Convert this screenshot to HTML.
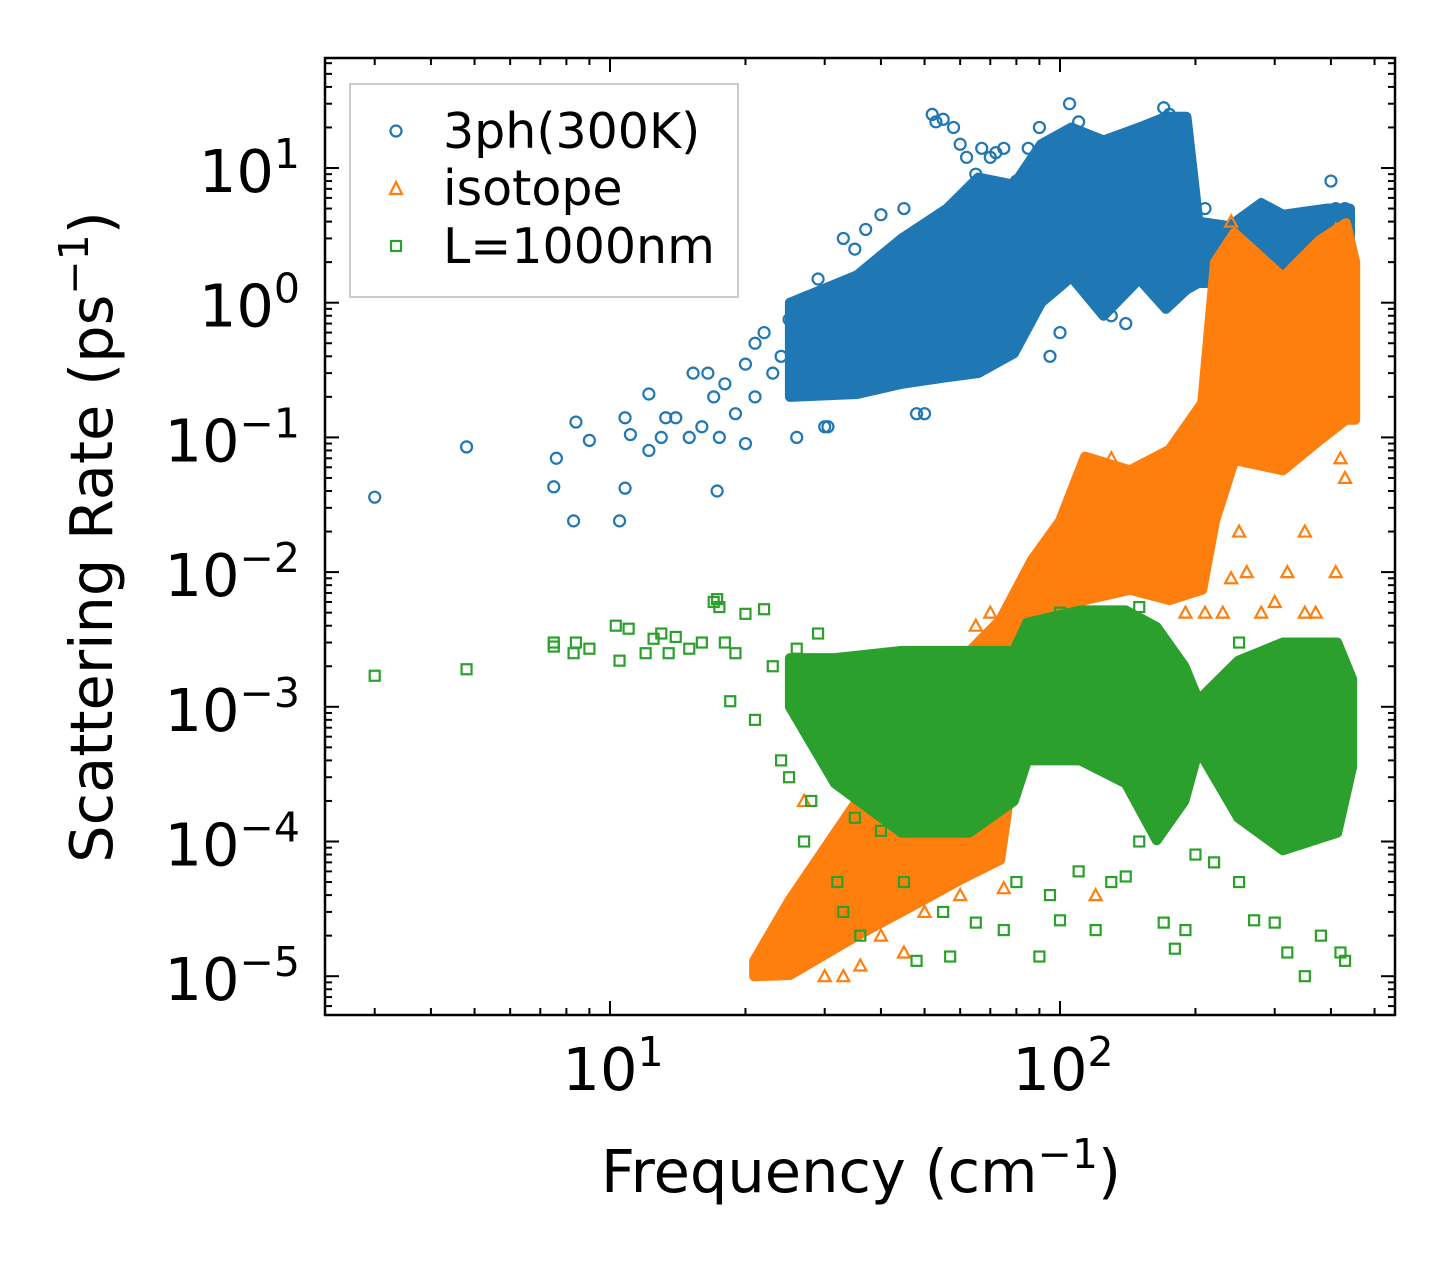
<!DOCTYPE html>
<html><head><meta charset="utf-8"><style>
body{margin:0;background:#fff;}
svg{display:block;font-family:"DejaVu Sans","Liberation Sans",sans-serif;}
</style></head><body>
<svg id="chart" width="1455" height="1265" viewBox="0 0 1455 1265" xmlns="http://www.w3.org/2000/svg">
<rect x="0" y="0" width="1455" height="1265" fill="#fff"/>
<g id="plot"></g>
<g id="axes"></g>
<text x="861" y="1192" font-size="59" text-anchor="middle">Frequency (cm<tspan dy="-24" font-size="41">−1</tspan><tspan dy="24">)</tspan></text>
<text transform="translate(112,537) rotate(-90)" font-size="59" text-anchor="middle">Scattering Rate (ps<tspan dy="-24" font-size="41">−1</tspan><tspan dy="24">)</tspan></text>
<g id="legend">
<rect x="350" y="84" width="388" height="213" fill="#fff" fill-opacity="0.8" stroke="#ccc" stroke-width="2"/>
<circle cx="396" cy="131" r="5.5" fill="none" stroke="#1f77b4" stroke-width="2.2"/>
<text x="443" y="148" font-size="49">3ph(300K)</text>
<path d="M396,182 L402,194 L390,194 Z" fill="none" stroke="#ff7f0e" stroke-width="2.2"/>
<text x="443" y="205" font-size="49">isotope</text>
<rect x="391" y="241" width="10" height="10" fill="none" stroke="#2ca02c" stroke-width="2.2"/>
<text x="443" y="263" font-size="49">L=1000nm</text>
</g>
</svg>
<script>
// ---- data ----
const blueX=[3,4.8,7.5,7.6,8.3,8.4,9,10.5,10.8,10.8,11.1,12.2,12.2,13,13.3,14,15,15.3,16,16.5,17,17.3,17.5,18,19,20,20,21,21,22,23,24,25,26,27,28,29,30,30.5,33,35,37,40,42,45,48,50,52,53,55,58,60,62,65,67,70,72,75,80,85,90,95,100,105,110,120,130,140,150,170,175,180,200,210,230,260,300,340,400,410,430];
const blueY=[0.036,0.085,0.043,0.07,0.024,0.13,0.095,0.024,0.042,0.14,0.105,0.08,0.21,0.1,0.14,0.14,0.1,0.3,0.12,0.3,0.2,0.04,0.1,0.25,0.15,0.09,0.35,0.5,0.2,0.6,0.3,0.4,0.75,0.1,0.6,0.8,1.5,0.12,0.12,3,2.5,3.5,4.5,1.5,5,0.15,0.15,25,22,23,20,15,12,9,14,12,13,14,8,14,20,0.4,0.6,30,22,1.5,0.8,0.7,15,28,25,18,3,5,3,2.5,4,4,8,5,5];
const blueBandX=[25.1,35.4,44.5,56.1,65.8,79,90.8,106,125,150,172,191,203,238,280,313,394,441];
const blueBandHi=[1.0,1.6,3.0,5.0,8.5,7.5,15,20,16,20,24,24,4.0,3.7,5.5,4.5,5,5];
const blueBandLo=[0.2,0.21,0.25,0.28,0.3,0.42,1.0,1.55,0.8,1.5,0.9,1.25,1.4,1.4,1.9,1.0,1.9,3.0];

const orangeX=[27,30,33,36,40,45,50,60,65,70,75,80,120,130,140,190,200,210,230,240,250,260,280,300,320,350,370,410,420,430,240,410,330,350];
const orangeY=[2e-4,1e-5,1e-5,1.2e-5,2e-5,1.5e-5,3e-5,4e-5,4e-3,5e-3,4.5e-5,4.5e-3,4e-5,0.07,0.04,5e-3,1e-2,5e-3,5e-3,9e-3,2e-2,1e-2,5e-3,6e-3,1e-2,5e-3,5e-3,1e-2,0.07,0.05,4,3.5,0.2,0.02];
const orangeBandX=[20.9,25.1,35.4,49.9,60,73.6,86.6,100,113.7,143,175,207,221,244,313,377,432,453];
const orangeBandHi=[1.3e-5,3.7e-5,2.0e-4,6.7e-4,2.2e-3,4.4e-3,1.23e-2,2.4e-2,7.2e-2,5.7e-2,8.1e-2,0.18,2.0,3.3,1.55,2.9,3.9,2.0];
const orangeBandLo=[1e-5,1.02e-5,2.0e-5,3.7e-5,5.2e-5,7.3e-5,3.1e-3,5.2e-3,6.2e-3,7.4e-3,6.2e-3,7.4e-3,2.4e-2,6.8e-2,5.7e-2,9.5e-2,0.135,0.135];

const greenX=[3,4.8,7.5,7.5,8.3,8.4,9,10.3,10.5,11,12,12.5,13,13.5,14,15,16,17,17.3,17.5,18,18.5,19,20,21,22,23,24,25,26,27,28,29,32,33,35,36,40,45,48,55,57,65,75,80,90,95,100,110,120,130,140,150,170,180,190,200,220,250,270,300,320,350,380,420,430,250,150,100];
const greenY=[1.7e-3,1.9e-3,3e-3,2.8e-3,2.5e-3,3e-3,2.7e-3,4e-3,2.2e-3,3.8e-3,2.5e-3,3.2e-3,3.5e-3,2.5e-3,3.3e-3,2.7e-3,3e-3,6e-3,6.3e-3,5.5e-3,3e-3,1.1e-3,2.5e-3,4.9e-3,8e-4,5.3e-3,2e-3,4e-4,3e-4,2.7e-3,1e-4,2e-4,3.5e-3,5e-5,3e-5,1.5e-4,2e-5,1.2e-4,5e-5,1.3e-5,3e-5,1.4e-5,2.5e-5,2.2e-5,5e-5,1.4e-5,4e-5,2.6e-5,6e-5,2.2e-5,5e-5,5.5e-5,1e-4,2.5e-5,1.6e-5,2.2e-5,8e-5,7e-5,5e-5,2.6e-5,2.5e-5,1.5e-5,1e-5,2e-5,1.5e-5,1.3e-5,3e-3,5.5e-3,5e-3];
const greenBandX=[25.1,31.6,44.5,62.8,79,84.5,111,140,164,189,203,249,313,413,446];
const greenBandHi=[2.3e-3,2.3e-3,2.6e-3,2.6e-3,2.6e-3,4.2e-3,5.2e-3,5.2e-3,3.9e-3,2.0e-3,1.12e-3,2.2e-3,3.0e-3,3.0e-3,1.6e-3];
const greenBandLo=[1.0e-3,2.7e-4,1.16e-4,1.16e-4,2.0e-4,4.0e-4,4.0e-4,2.7e-4,1.02e-4,2.0e-4,4.8e-4,1.5e-4,8.6e-5,1.16e-4,3.6e-4];

const xTickVals=[10,100];
const xTickLabels=["1","2"];
const yTickVals=[10,1,0.1,0.01,1e-3,1e-4,1e-5];
const yTickExps=["1","0","−1","−2","−3","−4","−5"];

// ---- axes ----
const L=325,R=1395,T=58,B=1015;
const sx=v=>610+(Math.log10(v)-1)*450;
const sy=v=>168-(Math.log10(v)-1)*134.7;
const NS="http://www.w3.org/2000/svg";
const plot=document.getElementById('plot');
const axes=document.getElementById('axes');
function mk(tag,attrs,parent){const e=document.createElementNS(NS,tag);for(const k in attrs)e.setAttribute(k,attrs[k]);parent.appendChild(e);return e;}

function band(xs,lo,hi,color,name){
  let d='M'+xs.map((x,i)=>sx(x).toFixed(1)+','+sy(hi[i]).toFixed(1)).join(' L');
  d+=' L'+xs.map((x,i)=>sx(x).toFixed(1)+','+sy(lo[i]).toFixed(1)).reverse().join(' L')+' Z';
  const p=mk('path',{d:d,fill:color,stroke:color,'stroke-width':10,'stroke-linejoin':'round'},plot);
  
  
}
function pts(xs,ys,color,shape,name){
  xs.forEach((x,i)=>{
    const cx=sx(x),cy=sy(ys[i]);let e;
    if(shape==='c')e=mk('circle',{cx:cx,cy:cy,r:5.5,fill:'none',stroke:color,'stroke-width':2.2},plot);
    else if(shape==='t')e=mk('path',{d:`M${cx},${cy-6} L${cx+6},${cy+5} L${cx-6},${cy+5} Z`,fill:'none',stroke:color,'stroke-width':2.2},plot);
    else e=mk('rect',{x:cx-5,y:cy-5,width:10,height:10,fill:'none',stroke:color,'stroke-width':2.2},plot);
    
    
  });
}
band(blueBandX,blueBandLo,blueBandHi,'#1f77b4','band-3ph');
pts(blueX,blueY,'#1f77b4','c','point-3ph');
band(orangeBandX,orangeBandLo,orangeBandHi,'#ff7f0e','band-isotope');
pts(orangeX,orangeY,'#ff7f0e','t','point-isotope');
band(greenBandX,greenBandLo,greenBandHi,'#2ca02c','band-boundary');
pts(greenX,greenY,'#2ca02c','s','point-boundary');

// frame
const fr=mk('rect',{x:L,y:T,width:R-L,height:B-T,fill:'none',stroke:'#000','stroke-width':2.5},axes);



// x ticks
for(let dec=0;dec<=2;dec++){for(let m=1;m<=9;m++){const v=m*Math.pow(10,dec);const x=sx(v);if(x<L||x>R)continue;const len=m===1?14:7;
  const t1=mk('line',{x1:x,y1:B,x2:x,y2:B-len,stroke:'#000','stroke-width':2},axes);
  
  
  const t2=mk('line',{x1:x,y1:T,x2:x,y2:T+len,stroke:'#000','stroke-width':2},axes);
  
  }}
xTickVals.forEach((v,i)=>{const t=mk('text',{x:sx(v)+3,y:1090,'font-size':59,'text-anchor':'middle'},axes);
  
  
  t.innerHTML='10<tspan dy="-24" font-size="41">'+xTickLabels[i]+'</tspan>';});
// y ticks
for(let dec=-6;dec<=1;dec++){for(let m=1;m<=9;m++){const v=m*Math.pow(10,dec);const y=sy(v);if(y<T||y>B)continue;const len=m===1?14:7;
  const t1=mk('line',{x1:L,y1:y,x2:L+len,y2:y,stroke:'#000','stroke-width':2},axes);
  
  
  const t2=mk('line',{x1:R,y1:y,x2:R-len,y2:y,stroke:'#000','stroke-width':2},axes);
  
  }}
yTickVals.forEach((v,i)=>{const t=mk('text',{x:300,y:sy(v)+24,'font-size':59,'text-anchor':'end'},axes);
  
  
  t.innerHTML='10<tspan dy="-24" font-size="41">'+yTickExps[i]+'</tspan>';});
</script>
</body></html>
